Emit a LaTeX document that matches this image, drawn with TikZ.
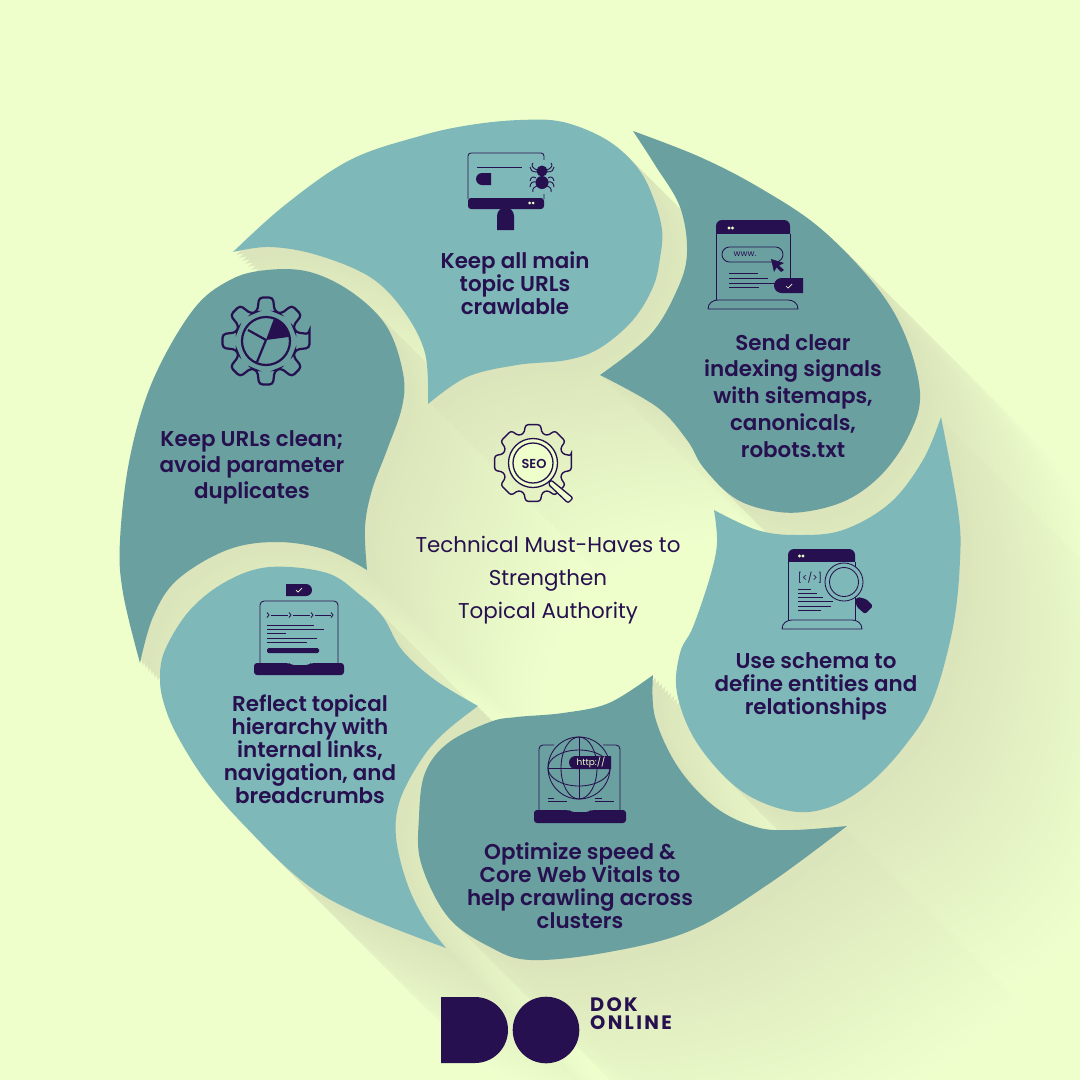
\documentclass[tikz,border=0pt]{standalone}
\usepackage{fontspec}
\setmainfont{Poppins}[BoldFont={Poppins SemiBold}]
\newfontfamily\logofont{Poppins}[LetterSpace=12,BoldFont={Poppins Bold}]
\definecolor{bgc}{HTML}{EEFFCC}
\definecolor{lightp}{HTML}{7FB8B8}
\definecolor{darkp}{HTML}{6AA0A0}
\definecolor{ink}{HTML}{26104F}
\definecolor{shade}{HTML}{DAE4BA}
\tikzset{
  lbl/.style={text=ink,align=center,inner sep=0pt,font=\fontsize{21.5}{23}\selectfont\bfseries},
  ico/.style={draw=ink,line width=.85bp}
}
\def\petalA{plot[smooth,tension=.6] coordinates {(233,252)(285,205)(350,160)(420,136)(470,125)(520,120)(563,122)(607,140)(637,167)(653,197)(662,230)(660,258)(653,287)(633,320)(600,348)(567,360)(517,365)(467,377)(428,404)} -- plot[smooth,tension=.6] coordinates {(428,404)(425,353)(403,310)(370,277)(317,255)(270,247)(233,252)} -- cycle}
\def\petalB{plot[smooth,tension=.6] coordinates {(633,131)(700,157)(760,188)(820,228)(875,285)(905,335)(920,393)(910,433)(883,473)(847,500)(803,512)(767,510)(733,497)(703,467)(687,440)(657,407)(600,375)} -- plot[smooth,tension=.6] coordinates {(600,375)(650,335)(677,290)(687,253)(680,207)(655,165)(633,131)} -- cycle}
\def\petalC{plot[smooth,tension=.6] coordinates {(941,417)(958,510)(960,560)(953,627)(933,700)(907,743)(870,783)(830,807)(790,811)(740,790)(697,743)(677,693)(680,653)(693,627)(710,577)(717,543)(714,510)} -- plot[smooth,tension=.6] coordinates {(714,510)(757,530)(797,535)(843,530)(890,503)(923,460)(941,417)} -- cycle}
\def\petalD{plot[smooth,tension=.6] coordinates {(847,826)(770,883)(692,930)(609,952)(531,960)(490,947)(448,917)(421,863)(419,817)(425,773)(448,743)(490,722)(517,717)(563,713)(609,703)(653,675)} -- plot[smooth,tension=.6] coordinates {(653,675)(655,717)(678,767)(715,807)(756,827)(793,830)(847,826)} -- cycle}
\def\petalE{plot[smooth,tension=.6] coordinates {(446,948)(357,913)(301,880)(242,823)(205,780)(178,737)(165,707)(160,680)(165,650)(190,610)(227,581)(270,567)(327,573)(360,595)(383,617)(402,650)(435,680)(478,706)} -- plot[smooth,tension=.6] coordinates {(478,706)(444,733)(421,760)(400,800)(396,837)(407,883)(425,920)(446,948)} -- cycle}
\def\petalF{plot[smooth,tension=.6] coordinates {(140,663)(123,593)(120,540)(130,457)(153,380)(193,310)(230,280)(267,270)(310,272)(353,293)(387,327)(403,373)(402,407)(387,450)(372,490)(365,527)(367,570)} -- plot[smooth,tension=.6] coordinates {(367,570)(327,550)(277,542)(227,550)(177,580)(153,617)(140,663)} -- cycle}
% gear outline: #1 options, #2 root radius, #3 tip radius, #4 tooth half width (tip), #5 tooth half width (root), #6 corner radius
\newcommand{\gearpath}[6]{
  \draw[ico,rounded corners=#6,#1] (-#4*45:#3) \foreach \k in {0,...,7}{
     -- ({45*\k+#4*45}:#3) -- ({45*\k+#5*45}:#2) -- ({45*(\k+1)-#5*45}:#2) -- ({45*(\k+1)-#4*45}:#3)} -- cycle;
}
\begin{document}
\begin{tikzpicture}[x=1bp,y=-1bp]
\useasboundingbox (0,0) rectangle (1080,1080);
\fill[bgc] (0,0) rectangle (1080,1080);
% long soft shadow: opaque layers, farthest first
\begin{scope}
\clip (0,0) rectangle (1080,1080);
\foreach \i in {60,59,...,1}{
  \pgfmathsetmacro{\pct}{100*(1-(\i/60)^.95)}
  \colorlet{layerc}{shade!\pct!bgc}
  \fill[layerc,shift={(\i*3,\i*3)}] \petalA \petalB \petalC \petalD \petalE \petalF;
}
\end{scope}
% petals
\fill[lightp] \petalA;
\fill[darkp] \petalB;
\fill[lightp] \petalC;
\fill[darkp] \petalD;
\fill[lightp] \petalE;
\fill[darkp] \petalF;

% --- labels
\node[lbl] (t1) at (515,283) {Keep all main\\topic URLs\\crawlable};
\node[lbl,font=\fontsize{21.5}{27}\selectfont\bfseries] (t2) at (793,396) {Send clear\\indexing signals\\with sitemaps,\\canonicals,\\robots.txt};
\node[lbl] (t3) at (816,686) {Use schema to\\define entities and\\relationships};
\node[lbl] (t4) at (580,886) {Optimize speed \&\\Core Web Vitals to\\help crawling across\\clusters};
\node[lbl] (t5) at (310,749) {Reflect topical\\hierarchy with\\internal links,\\navigation, and\\breadcrumbs};
\node[lbl,font=\fontsize{21.5}{26}\selectfont\bfseries] (t6) at (252,467) {Keep URLs clean;\\avoid parameter\\duplicates};
\node[text=ink,align=center,inner sep=0pt,font=\fontsize{21.5}{33}\selectfont] (tc) at (548,580) {Technical Must-Haves to\\Strengthen\\Topical Authority};

% --- icon 1: monitor + spider
\draw[ico,rounded corners=3bp] (468,199) -- (468,153) -- (544,153) -- (544,199);
\fill[ink,rounded corners=3bp] (468,198) -- (544,198) -- (544,209) -- (468,209) -- cycle;
\fill[ink] (497,230) -- (497,216) arc[start angle=180,end angle=360,radius=8.5] -- (514,230) -- cycle;
\draw[ico,line width=.6bp] (477,167) -- (522,167);
\fill[ink] (491,173) -- (482,173) arc[start angle=270,end angle=90,radius=6] -- (491,185) -- cycle;
\fill[bgc] (529.5,203) circle[radius=1.5] (533,203) circle[radius=1.5];
\fill[lightp] (534,160) rectangle (552,194);
\fill[ink] (542,171) circle[radius=5.5] (542,182.5) circle[radius=6.5];
\foreach \s in {-1,1}{
  \draw[ink,line width=.9bp] (542+\s*5,170) .. controls (542+\s*10,168) and (542+\s*11,165) .. (542+\s*9,163);
  \draw[ink,line width=.9bp] (542+\s*5,172) .. controls (542+\s*10,172) and (542+\s*12,170) .. (542+\s*12,167);
  \draw[ink,line width=.9bp] (542+\s*6,178) .. controls (542+\s*9,176) and (542+\s*11,177) .. (542+\s*12,181);
  \draw[ink,line width=.9bp] (542+\s*6,182) .. controls (542+\s*9,181) and (542+\s*12,183) .. (542+\s*12,187);
  \draw[ink,line width=.9bp] (542+\s*5,186) .. controls (542+\s*8,187) and (542+\s*10,189) .. (542+\s*9,192);
}

% --- icon 2: browser www
\fill[ink,rounded corners=6bp] (716,240) -- (716,220) -- (790,220) -- (790,240) -- cycle;
\fill[darkp] (715,234) rectangle (791,241);
\draw[ico] (716,234) -- (716,300) (790,234) -- (790,278);
\fill[bgc] (729,228) circle[radius=1.6] (732.5,228) circle[radius=1.6];
\draw[ico,rounded corners=7.5bp] (722,247) rectangle (783,262);
\node[text=ink,inner sep=0pt,font=\fontsize{8.5}{9}\selectfont] (www) at (745,254) {www.};
\fill[ink] (771,259) -- (784,263) -- (779,265.5) -- (784,270) -- (781,272) -- (776.5,267.5) -- (774,272) -- cycle;
\draw[ico] (729,273) -- (758,273) (729,278) -- (768,278) (729,283) -- (775,283) (729,287) -- (759,287);
\fill[ink] (803,278) -- (781.5,278) arc[start angle=270,end angle=90,radius=7.5] -- (803,293) -- cycle;
\draw[bgc,line width=.7bp] (786,286) -- (788,288) -- (792,284);
\draw[ico] (708,309) -- (798,309) .. controls (798,303) and (793,300) .. (788,300) -- (718,300) .. controls (713,300) and (708,303) .. (708,309);

% --- icon 3: schema window
\fill[ink,rounded corners=6bp] (788,568) -- (788,549) -- (855,549) -- (855,568) -- cycle;
\fill[lightp] (787,562) rectangle (856,569);
\draw[ico] (788,562) -- (788,620) (855,562) -- (855,620);
\fill[bgc] (799.5,556) circle[radius=1.6] (803,556) circle[radius=1.6];
\node[text=ink,inner sep=0pt,font=\fontsize{10}{10}\selectfont] (code) at (810,578) {[</>]};
\draw[ico] (798,589) -- (811,589) (798,593) -- (817,593) (798,597) -- (823,597) (798,601) -- (833,601) (798,606) -- (831,606) (798,610) -- (821,610);
\fill[lightp] (844,582) circle[radius=19];
\draw[ico] (844,582) circle[radius=19] (844,582) circle[radius=14.5];
\fill[ink,rounded corners=1.5bp] (858,597) -- (866,599) -- (873,606) -- (865,614) -- (857,607) -- (855,600) -- cycle;
\draw[ico] (782,629) -- (862,629) .. controls (862,623) and (857,620) .. (852,620) -- (792,620) .. controls (787,620) and (782,623) .. (782,629);

% --- icon 4: globe laptop
\draw[ico,rounded corners=4bp] (539,810) -- (539,745) -- (554,745);
\draw[ico,rounded corners=4bp] (620,810) -- (620,745) -- (603,745);
\draw[ico] (579,768) circle[radius=31];
\draw[ico] (579,768) ellipse[x radius=18,y radius=31];
\draw[ico] (579,768) ellipse[x radius=31,y radius=18];
\draw[ico] (579,737) -- (579,799) (548,768) -- (610,768);
\fill[ink] (611,756) -- (575.5,756) arc[start angle=270,end angle=90,radius=6.5] -- (611,769) -- cycle;
\node[text=bgc,inner sep=0pt,font=\fontsize{9}{9}\selectfont] (http) at (591,762.5) {http://};
\draw[ico] (548,798) -- (554,798) (548,801) -- (567,801) (595,798) -- (602,798) (595,801) -- (614,801);
\fill[ink,rounded corners=3bp] (534,810) -- (569,810) -- (571,812) -- (589,812) -- (591,810) -- (626,810) -- (626,823) -- (534,823) -- cycle;

% --- icon 5: laptop with list
\draw[ico,rounded corners=4bp] (260,663) -- (260,601) -- (338,601) -- (338,663);
\fill[ink,rounded corners=3bp] (254,663) -- (289,663) -- (291,665) -- (309,665) -- (311,663) -- (344,663) -- (344,675) -- (254,675) -- cycle;
\fill[ink] (286,584) -- (306,584) arc[start angle=-90,end angle=90,radius=6] -- (286,596) -- cycle;
\draw[bgc,line width=.7bp] (296,590) -- (298,592) -- (302,588);
\draw[ico] (271,615) -- (288,615) (293,615) -- (310,615) (315,615) -- (331,615);
\foreach \c in {269,291,313,333}{\draw[ico] (\c-2,612.5) -- (\c,615) -- (\c-2,617.5);}
\draw[ico] (267,625) -- (314,625);
\draw[ico] (267,629) -- (324,629) (267,633) -- (286,633) (267,638) -- (317,638) (267,642) -- (307,642);
\fill[ink,rounded corners=1.5bp] (267,648) rectangle (319,653);

% --- icon 6: gear with pie chart
\gearpath{shift={(266,341)},line width=2.2bp}{31}{44}{.2}{.36}{3.5bp}
\draw[ink,line width=2.2bp] (266,341) circle[radius=24];
\fill[ink] (266,340) -- (274,318.5) arc[start angle=-70,end angle=-10,radius=24] -- cycle;
\draw[ink,line width=2.2bp] (266,340) -- (248,330) (266,340) -- (257,362);

% --- centre icon: SEO gear
\gearpath{shift={(533,463)},line width=1.4bp}{31}{39}{.24}{.38}{2.5bp}
\draw[ink,line width=1.3bp,fill=bgc,rounded corners=2bp] (551,480) -- (573,498) -- (568,503) -- (548,484) -- cycle;
\draw[ink,line width=1.3bp,fill=bgc] (533,463) circle[radius=24.5];
\draw[ink,line width=1.3bp] (533,463) circle[radius=20];
\node[text=ink,inner sep=0pt,font=\fontsize{13}{13}\selectfont\bfseries] (seo) at (534,464) {SEO};

% --- logo
\fill[ink] (441,997) -- (475,997) arc[start angle=-90,end angle=90,radius=33] -- (441,1063) -- cycle;
\fill[ink] (546,1030) circle[radius=33.3];
\node[text=ink,anchor=base west,inner sep=0pt,font=\fontsize{19.5}{20}\selectfont\logofont\bfseries] (dok) at (590,1011) {DOK};
\node[text=ink,anchor=base west,inner sep=0pt,font=\fontsize{19.5}{20}\selectfont\logofont\bfseries] (onl) at (590,1029) {ONLINE};
\end{tikzpicture}
\end{document}
